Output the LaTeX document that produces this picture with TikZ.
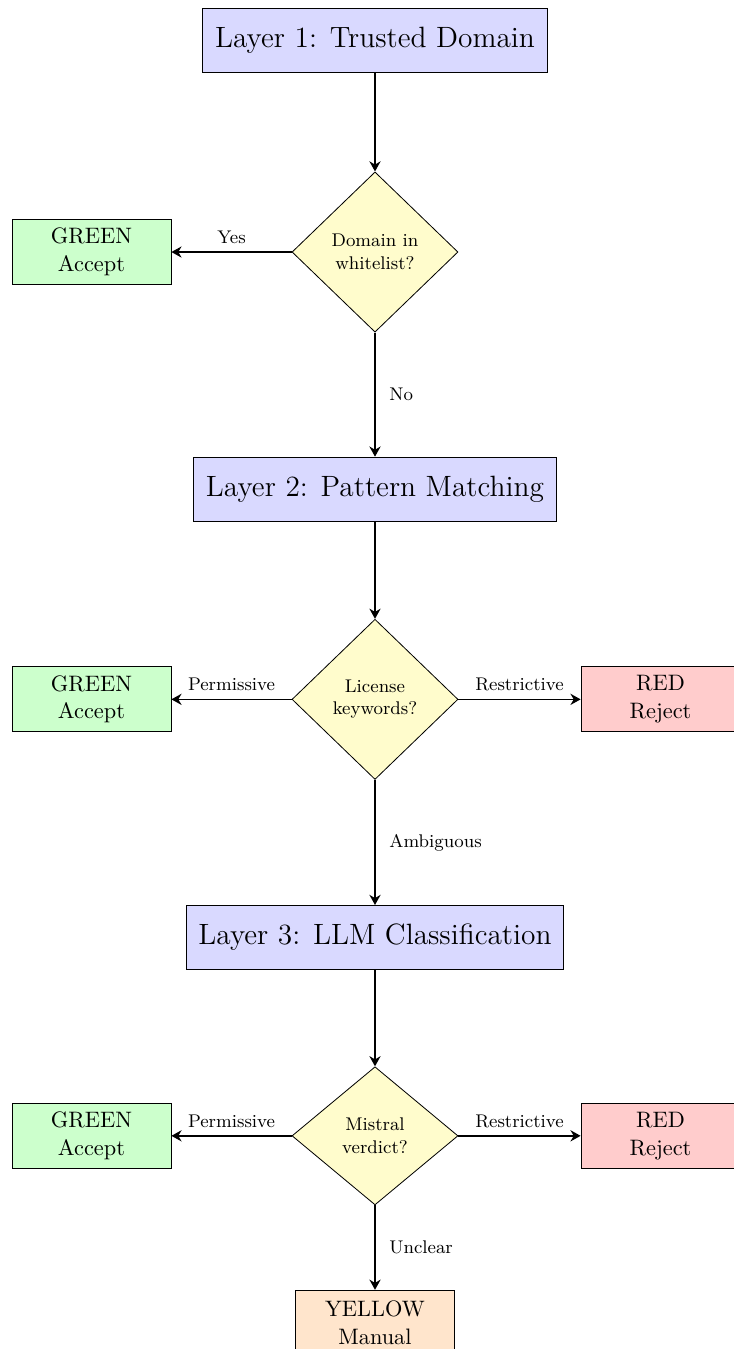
\documentclass[tikz,border=0pt,11pt]{standalone}
\usepackage{tikz}
\usetikzlibrary{arrows.meta,shapes.geometric}

\begin{document}
\begin{tikzpicture}[
    x=1cm,
    y=1cm,
    >={Stealth[length=5pt, width=5.5pt]},
    layer/.style={draw, fill=blue!15, align=center, minimum height=1.1cm, inner xsep=6pt, font=\Large},
    decision/.style={diamond, draw, fill=yellow!20, align=center, aspect=1, inner sep=1pt, minimum width=2.86cm, minimum height=2.76cm, font=\footnotesize},
    outcome/.style={draw, align=center, minimum width=2.74cm, minimum height=1.12cm},
    accept/.style={outcome, fill=green!20},
    reject/.style={outcome, fill=red!20},
    manual/.style={outcome, fill=orange!20},
    lbl/.style={font=\footnotesize},
    line/.style={->, thick}
]
\useasboundingbox (-6.461,0.689) rectangle (6.185,-22.553);

% layer 1
\node[layer] (layer1) at (0,0) {Layer 1: Trusted Domain};
\node[decision] (whitelist) at (0,-3.653) {Domain in\\whitelist?};
\node[accept] (accept1) at (-4.885,-3.653) {GREEN\\Accept};

% layer 2
\node[layer] (layer2) at (0,-7.736) {Layer 2: Pattern Matching};
\node[decision] (keywords) at (0,-11.36) {License\\keywords?};
\node[accept] (accept2) at (-4.885,-11.36) {GREEN\\Accept};
\node[reject] (reject2) at (4.92,-11.36) {RED\\Reject};

% layer 3
\node[layer] (layer3) at (0,-15.46) {Layer 3: LLM Classification};
\node[decision, minimum height=2.38cm] (verdict) at (0,-18.88) {Mistral\\verdict?};
\node[accept] (accept3) at (-4.885,-18.88) {GREEN\\Accept};
\node[reject] (reject3) at (4.92,-18.88) {RED\\Reject};
\node[manual] (manual) at (0,-22.10) {YELLOW\\Manual};

\draw[line] (layer1) -- (whitelist);
\draw[line] (whitelist.west) -- (accept1.east) node[lbl, midway, above] {Yes};
\draw[line] (whitelist.south) -- (layer2.north) node[lbl, midway, right=3pt] {No};

\draw[line] (layer2) -- (keywords);
\draw[line] (keywords.west) -- (accept2.east) node[lbl, midway, above] {Permissive};
\draw[line] (keywords.east) -- (reject2.west) node[lbl, midway, above] {Restrictive};
\draw[line] (keywords.south) -- (layer3.north) node[lbl, midway, right=3pt] {Ambiguous};

\draw[line] (layer3) -- (verdict);
\draw[line] (verdict.west) -- (accept3.east) node[lbl, midway, above] {Permissive};
\draw[line] (verdict.east) -- (reject3.west) node[lbl, midway, above] {Restrictive};
\draw[line] (verdict.south) -- (manual.north) node[lbl, midway, right=3pt] {Unclear};
\end{tikzpicture}
\end{document}
